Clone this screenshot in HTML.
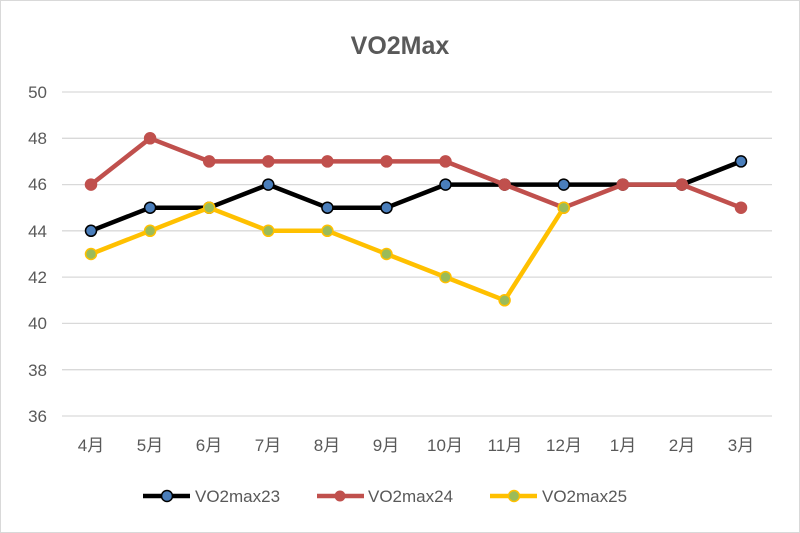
<!DOCTYPE html>
<html><head><meta charset="utf-8"><style>body{margin:0;background:#fff}svg{display:block}</style></head><body>
<svg width="800" height="533" xmlns="http://www.w3.org/2000/svg" font-family="Liberation Sans, Noto Sans CJK JP, sans-serif">
<rect x="0.5" y="0.5" width="799" height="532" fill="#fff" stroke="#d9d9d9"/>
<text x="400" y="54" text-anchor="middle" font-size="25" font-weight="bold" fill="#595959">VO2Max</text>
<g stroke="#d9d9d9" stroke-width="1.3">
<line x1="62" x2="772" y1="92" y2="92"/><line x1="62" x2="772" y1="138.3" y2="138.3"/><line x1="62" x2="772" y1="184.6" y2="184.6"/><line x1="62" x2="772" y1="230.8" y2="230.8"/><line x1="62" x2="772" y1="277.1" y2="277.1"/><line x1="62" x2="772" y1="323.4" y2="323.4"/><line x1="62" x2="772" y1="369.7" y2="369.7"/><line x1="62" x2="772" y1="416" y2="416"/>
</g>
<g font-size="17" fill="#595959" text-anchor="end">
<text x="47" y="98">50</text><text x="47" y="144">48</text><text x="47" y="190">46</text><text x="47" y="237">44</text><text x="47" y="283">42</text><text x="47" y="329">40</text><text x="47" y="376">38</text><text x="47" y="422">36</text>
</g>
<g font-size="17" fill="#595959" text-anchor="middle">
<text x="91" y="451">4月</text><text x="150" y="451">5月</text><text x="209" y="451">6月</text><text x="268" y="451">7月</text><text x="327" y="451">8月</text><text x="386" y="451">9月</text><text x="445" y="451">10月</text><text x="505" y="451">11月</text><text x="564" y="451">12月</text><text x="623" y="451">1月</text><text x="682" y="451">2月</text><text x="741" y="451">3月</text>
</g>
<polyline fill="none" stroke="#000" stroke-width="4.5" stroke-linejoin="round" points="91,230.8 150.1,207.7 209.2,207.7 268.3,184.6 327.4,207.7 386.5,207.7 445.5,184.6 504.6,184.6 563.7,184.6 622.8,184.6 681.9,184.6 741,161.4"/>
<g fill="#4a7ebb" stroke="#000" stroke-width="1.5">
<circle cx="91" cy="230.8" r="5.5"/><circle cx="150.1" cy="207.7" r="5.5"/><circle cx="209.2" cy="207.7" r="5.5"/><circle cx="268.3" cy="184.6" r="5.5"/><circle cx="327.4" cy="207.7" r="5.5"/><circle cx="386.5" cy="207.7" r="5.5"/><circle cx="445.5" cy="184.6" r="5.5"/><circle cx="504.6" cy="184.6" r="5.5"/><circle cx="563.7" cy="184.6" r="5.5"/><circle cx="622.8" cy="184.6" r="5.5"/><circle cx="681.9" cy="184.6" r="5.5"/><circle cx="741" cy="161.4" r="5.5"/>
</g>
<polyline fill="none" stroke="#c0504d" stroke-width="4.5" stroke-linejoin="round" points="91,184.6 150.1,138.3 209.2,161.4 268.3,161.4 327.4,161.4 386.5,161.4 445.5,161.4 504.6,184.6 563.7,207.7 622.8,184.6 681.9,184.6 741,207.7"/>
<g fill="#c0504d" stroke="#c0504d" stroke-width="1.5">
<circle cx="91" cy="184.6" r="5.5"/><circle cx="150.1" cy="138.3" r="5.5"/><circle cx="209.2" cy="161.4" r="5.5"/><circle cx="268.3" cy="161.4" r="5.5"/><circle cx="327.4" cy="161.4" r="5.5"/><circle cx="386.5" cy="161.4" r="5.5"/><circle cx="445.5" cy="161.4" r="5.5"/><circle cx="504.6" cy="184.6" r="5.5"/><circle cx="563.7" cy="207.7" r="5.5"/><circle cx="622.8" cy="184.6" r="5.5"/><circle cx="681.9" cy="184.6" r="5.5"/><circle cx="741" cy="207.7" r="5.5"/>
</g>
<polyline fill="none" stroke="#ffc000" stroke-width="4.5" stroke-linejoin="round" points="91,254 150.1,230.8 209.2,207.7 268.3,230.8 327.4,230.8 386.5,254 445.5,277.1 504.6,300.3 563.7,207.7"/>
<g fill="#9bbb59" stroke="#ffc000" stroke-width="1.5">
<circle cx="91" cy="254" r="5.5"/><circle cx="150.1" cy="230.8" r="5.5"/><circle cx="209.2" cy="207.7" r="5.5"/><circle cx="268.3" cy="230.8" r="5.5"/><circle cx="327.4" cy="230.8" r="5.5"/><circle cx="386.5" cy="254" r="5.5"/><circle cx="445.5" cy="277.1" r="5.5"/><circle cx="504.6" cy="300.3" r="5.5"/><circle cx="563.7" cy="207.7" r="5.5"/>
</g>
<g font-size="17" fill="#595959">
<line x1="143" x2="190" y1="496" y2="496" stroke="#000" stroke-width="4.5"/><circle cx="167" cy="496" r="5.5" fill="#4a7ebb" stroke="#000" stroke-width="1.5"/>
<text x="195" y="502">VO2max23</text>
<line x1="317" x2="364" y1="496" y2="496" stroke="#c0504d" stroke-width="4.5"/><circle cx="340" cy="496" r="5.5" fill="#c0504d"/>
<text x="368" y="502">VO2max24</text>
<line x1="490" x2="537" y1="496" y2="496" stroke="#ffc000" stroke-width="4.5"/><circle cx="514" cy="496" r="5.5" fill="#9bbb59" stroke="#ffc000" stroke-width="1.5"/>
<text x="542" y="502">VO2max25</text>
</g>
</svg>
</body></html>
